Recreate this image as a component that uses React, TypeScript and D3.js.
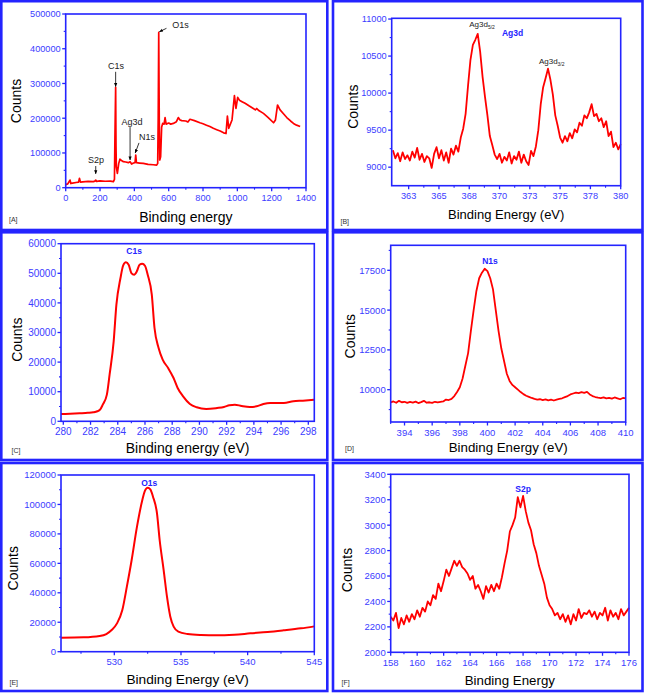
import React from 'react';
import * as d3 from 'd3';

// ---------- DATA ----------
// [A] survey spectrum: [binding energy, counts]
const surveyPoints: [number, number][] = [
  [0, 9000], [12, 11000], [25, 22000], [30, 12000], [40, 13000], [60, 15000], [75, 16000], [80, 27000],
  [86, 16000], [100, 17000], [130, 18000], [161, 17500], [170, 19000], [175, 22000], [180, 18000],
  [200, 19500], [230, 18500], [260, 19000], [278, 17500], [284, 24000], [287, 150000], [291, 289000],
  [293, 120000], [295, 60000], [301, 41000], [309, 70000], [316, 82000], [325, 78000], [336, 75000],
  [350, 74000], [365, 72000], [375, 75000], [384, 68000], [395, 71000], [404, 72000], [408, 94000],
  [412, 72000], [430, 71000], [452, 70000], [480, 67000], [510, 66000], [530, 65000], [536, 70000],
  [539, 200000], [542, 447000], [545, 200000], [548, 80000], [553, 89000], [559, 175000], [565, 185000],
  [573, 183000], [579, 202000], [585, 183000], [600, 186000], [612, 183000], [627, 185000], [645, 190000],
  [656, 202000], [666, 195000], [676, 193000], [700, 192000], [712, 189000], [724, 197000], [750, 193000],
  [782, 187000], [800, 184000], [820, 180000], [840, 176000], [860, 171000], [880, 167000], [900, 163000],
  [920, 158000], [934, 156000], [942, 206000], [950, 171000], [957, 180000], [969, 195000], [983, 265000],
  [992, 228000], [1002, 260000], [1012, 252000], [1030, 247000], [1045, 243000], [1070, 235000],
  [1093, 228000], [1105, 224000], [1113, 228000], [1125, 222000], [1152, 214000], [1180, 202000],
  [1211, 187000], [1222, 195000], [1234, 238000], [1249, 224000], [1270, 212000], [1288, 202000],
  [1310, 192000], [1327, 185000], [1345, 180000], [1366, 176000],
];
const surveyXTicks = [0, 200, 400, 600, 800, 1000, 1200, 1400];
const surveyXMinor = [100, 300, 500, 700, 900, 1100, 1300];
const surveyYTicks = [0, 100000, 200000, 300000, 400000, 500000];
const surveyYMinor = [50000, 150000, 250000, 350000, 450000];
// annotation: label, text centre [eV, counts], arrow start, arrow tip
const surveyNotes = [
  { text: 'O1s', t: [669, 468300], a: [587, 458800], b: [546, 449000] },
  { text: 'C1s', t: [293, 350300], a: [291, 333600], b: [291, 291000] },
  { text: 'Ag3d', t: [386, 190600], a: [375, 174400], b: [375, 79700] },
  { text: 'N1s', t: [474, 146800], a: [427, 129000], b: [405, 99900] },
  { text: 'S2p', t: [177, 79700], a: [175, 62400], b: [175, 40000] },
];

// [B] Ag3d region, counts on a 0.2 eV grid starting at 361.2 eV
const agStart = 361.2;
const agStep = 0.2;
const agCounts = [
  9230, 9120, 9190, 9080, 9200, 9110, 9160, 9090, 9210, 9130,
  9260, 9100, 9180, 9070, 9150, 9120, 8990, 9180, 9270, 9120,
  9230, 9090, 9200, 9060, 9250, 9170, 9290, 9210, 9400, 9520,
  9720, 10100, 10450, 10650, 10720, 10800, 10560, 10220, 9950, 9700,
  9420, 9300, 9170, 9110, 9180, 9060, 9140, 9090, 9200, 9050,
  9150, 9100, 9210, 9060, 9170, 9080, 9030, 9220, 9150, 9280,
  9500, 9850, 10080, 10200, 10330, 10180, 9980, 9700, 9560, 9400,
  9330, 9420, 9350, 9460, 9390, 9510, 9470, 9600, 9560, 9700,
  9660, 9740, 9850, 9690, 9720, 9620, 9660, 9540, 9620, 9420,
  9480, 9270, 9330, 9240, 9310,
];
const agXTicks = [362.5, 365, 367.5, 370, 372.5, 375, 377.5, 380];
const agXLabels = ['363', '365', '368', '370', '373', '375', '378', '380'];
const agXMinor = [363.75, 366.25, 368.75, 371.25, 373.75, 376.25, 378.75];
const agYTicks = [9000, 9500, 10000, 10500, 11000];
const agYMinor = [9250, 9750, 10250, 10750];

// [C] C1s region: [eV, counts]
const c1sPoints: [number, number][] = [
  [279.83, 2450], [280.5, 2550], [281.2, 2700], [281.8, 2850], [282.2, 3040], [282.5, 3400], [282.7, 3940],
  [282.9, 5630], [283.2, 9000], [283.4, 15760], [283.7, 27000], [283.9, 39400], [284.2, 48400],
  [284.4, 52680], [284.6, 53700], [284.8, 52900], [285.0, 50100], [285.2, 49530], [285.4, 50660],
  [285.6, 52900], [285.8, 53240], [286.0, 52570], [286.2, 49530], [286.5, 42780], [286.7, 31520],
  [287.0, 24770], [287.3, 20830], [287.7, 18010], [288.1, 14630], [288.4, 11260], [288.8, 8440],
  [289.3, 5850], [289.8, 4730], [290.5, 4170], [291.3, 4500], [291.8, 4840], [292.2, 5400],
  [292.6, 5630], [293.1, 5180], [293.7, 4840], [294.2, 5070], [294.7, 5850], [295.2, 6190],
  [296.2, 6190], [296.9, 6750], [297.6, 6980], [298.44, 7320],
];
const c1sXTicks = [280, 282, 284, 286, 288, 290, 292, 294, 296, 298];
const c1sXMinor = [281, 283, 285, 287, 289, 291, 293, 295, 297];
const c1sYTicks = [0, 10000, 20000, 30000, 40000, 50000, 60000];
const c1sYMinor = [5000, 15000, 25000, 35000, 45000, 55000];

// [D] N1s region, counts on a 0.2 eV grid starting at 393 eV
const n1sStart = 393;
const n1sStep = 0.2;
const n1sCounts = [
  9200, 9260, 9180, 9300, 9210, 9240, 9170, 9230, 9190, 9250,
  9160, 9220, 9300, 9180, 9210, 9170, 9240, 9200, 9230, 9260,
  9380, 9350, 9420, 9600, 9850, 10150, 10700, 11500, 12300, 13700,
  15000, 16200, 17000, 17350, 17600, 17450, 17000, 16300, 15000, 13700,
  12600, 11800, 11000, 10550, 10300, 10150, 10000, 9850, 9720, 9620,
  9550, 9480, 9420, 9380, 9400, 9350, 9390, 9330, 9370, 9320,
  9380, 9420, 9460, 9530, 9600, 9700, 9760, 9820, 9790, 9850,
  9800, 9860, 9700, 9600, 9540, 9500, 9470, 9520, 9450, 9490,
  9440, 9510, 9460, 9400, 9480, 9450,
];
const n1sXTicks = [394, 396, 398, 400, 402, 404, 406, 408, 410];
const n1sXMinor = [393, 395, 397, 399, 401, 403, 405, 407, 409];
const n1sYTicks = [10000, 12500, 15000, 17500];
const n1sYMinor = [8750, 11250, 13750, 16250, 18750];

// [E] O1s region: [eV, counts]
const o1sPoints: [number, number][] = [
  [526, 9510], [527.7, 9735], [528.9, 10640], [529.4, 12000], [529.8, 14720], [530.2, 19240],
  [530.6, 28300], [530.94, 44150], [531.3, 62260], [531.7, 84900], [532.1, 103000], [532.3, 109350],
  [532.5, 111400], [532.7, 110250], [532.9, 105280], [533.2, 93960], [533.4, 75850], [533.7, 55470],
  [533.95, 37360], [534.2, 23770], [534.45, 16980], [534.8, 13580], [535.5, 12000], [536.5, 11320],
  [537.7, 11090], [539.0, 11550], [540.2, 12450], [541.5, 13360], [542.7, 14490], [544.0, 15850],
  [545, 17200],
];
const o1sXTicks = [530, 535, 540, 545];
const o1sXMinor = [527.5, 532.5, 537.5, 542.5];
const o1sYTicks = [0, 20000, 40000, 60000, 80000, 100000, 120000];
const o1sYMinor = [10000, 30000, 50000, 70000, 90000, 110000];

// [F] S2p region, counts on a 0.2 eV grid starting at 158 eV
const s2pStart = 158;
const s2pStep = 0.2;
const s2pCounts = [
  2280, 2250, 2310, 2190, 2270, 2220, 2290, 2240, 2300, 2260,
  2330, 2280, 2350, 2320, 2400, 2370, 2450, 2420, 2540, 2480,
  2560, 2650, 2600, 2660, 2720, 2680, 2720, 2670, 2650, 2620,
  2570, 2600, 2500, 2530, 2480, 2420, 2520, 2470, 2530, 2480,
  2540, 2500, 2590, 2700, 2800, 2950, 3000, 3060, 3220, 3140,
  3230, 3110, 3020, 2960, 2850, 2780, 2680, 2610, 2540, 2430,
  2370, 2340, 2290, 2310, 2260, 2300, 2240, 2290, 2220, 2300,
  2250, 2340, 2270, 2310, 2300, 2330, 2280, 2320, 2260, 2310,
  2290, 2350, 2250, 2330, 2280, 2310, 2260, 2340, 2290, 2320,
  2350,
];
const s2pXTicks = [158, 160, 162, 164, 166, 168, 170, 172, 174, 176];
const s2pXMinor = [159, 161, 163, 165, 167, 169, 171, 173, 175];
const s2pYTicks = [2000, 2200, 2400, 2600, 2800, 3000, 3200, 3400];
const s2pYMinor = [2100, 2300, 2500, 2700, 2900, 3100, 3300];

// ---------- STYLE ----------
const BLUE = '#2424ff';
const TICK_BLUE = '#3c3cff';
const RED = '#ff0000';
const FONT = '"Liberation Sans", Arial, sans-serif';

const grid = (start: number, step: number, counts: number[]): [number, number][] =>
  counts.map((c, i) => [+(start + i * step).toFixed(3), c]);

type Cfg = {
  tag: string;
  outer: [number, number, number, number];
  plot: { l: number; r: number; t: number; b: number };
  xDomain: [number, number];
  yDomain: [number, number];
  xTicks: number[];
  xLabels?: string[];
  xMinor: number[];
  yTicks: number[];
  yMinor: number[];
  points: [number, number][];
  curve: d3.CurveFactory;
  lw: number;
  tickFs: number;
  ylab: { x: number; y: number; fs: number };
  xlab: { text: string; y: number; fs: number };
  tagPos: [number, number];
  peak?: { text: string; at: [number, number] };
};

const panels: Cfg[] = [
  {
    tag: '[A]', outer: [1.3, 1.2, 326, 228.8],
    plot: { l: 65.7, r: 306, t: 14, b: 187.7 },
    xDomain: [0, 1400], yDomain: [0, 500000],
    xTicks: surveyXTicks, xMinor: surveyXMinor, yTicks: surveyYTicks, yMinor: surveyYMinor,
    points: surveyPoints, curve: d3.curveLinear, lw: 1.7, tickFs: 9.2,
    ylab: { x: 20.5, y: 101, fs: 14 }, xlab: { text: 'Binding energy', y: 221.5, fs: 14 },
    tagPos: [9, 221.5],
  },
  {
    tag: '[B]', outer: [333, 1.2, 309.5, 228.8],
    plot: { l: 391.7, r: 620.7, t: 18.3, b: 185.7 },
    xDomain: [361.1, 380], yDomain: [8750, 11010],
    xTicks: agXTicks, xLabels: agXLabels, xMinor: agXMinor, yTicks: agYTicks, yMinor: agYMinor,
    points: grid(agStart, agStep, agCounts), curve: d3.curveLinear, lw: 1.8, tickFs: 9.2,
    ylab: { x: 357.5, y: 106.7, fs: 14 }, xlab: { text: 'Binding Energy (eV)', y: 218.5, fs: 13 },
    tagPos: [340.5, 223.5],
  },
  {
    tag: '[C]', outer: [1.3, 232.3, 326, 227.7],
    plot: { l: 61, r: 314.3, t: 243.7, b: 421.3 },
    xDomain: [279.83, 298.44], yDomain: [0, 60000],
    xTicks: c1sXTicks, xMinor: c1sXMinor, yTicks: c1sYTicks, yMinor: c1sYMinor,
    points: c1sPoints, curve: d3.curveMonotoneX, lw: 2, tickFs: 10,
    ylab: { x: 21.7, y: 339.7, fs: 14 }, xlab: { text: 'Binding energy (eV)', y: 453, fs: 14 },
    tagPos: [11.5, 453], peak: { text: 'C1s', at: [285.2, 57700] },
  },
  {
    tag: '[D]', outer: [333, 232.3, 309.5, 227.7],
    plot: { l: 390.7, r: 625.7, t: 245.3, b: 422 },
    xDomain: [393, 410], yDomain: [7970, 19070],
    xTicks: n1sXTicks, xMinor: n1sXMinor, yTicks: n1sYTicks, yMinor: n1sYMinor,
    points: grid(n1sStart, n1sStep, n1sCounts), curve: d3.curveLinear, lw: 1.8, tickFs: 9.5,
    ylab: { x: 354.7, y: 336.3, fs: 14 }, xlab: { text: 'Binding Energy (eV)', y: 451.5, fs: 13.3 },
    tagPos: [345, 451], peak: { text: 'N1s', at: [400.18, 18065] },
  },
  {
    tag: '[E]', outer: [1.3, 463, 326, 228],
    plot: { l: 61, r: 314.3, t: 475, b: 651.7 },
    xDomain: [526, 545], yDomain: [0, 120000],
    xTicks: o1sXTicks, xMinor: o1sXMinor, yTicks: o1sYTicks, yMinor: o1sYMinor,
    points: o1sPoints, curve: d3.curveMonotoneX, lw: 2, tickFs: 9.5,
    ylab: { x: 18.3, y: 568.3, fs: 14 }, xlab: { text: 'Binding Energy (eV)', y: 684, fs: 13.7 },
    tagPos: [9.5, 684.5], peak: { text: 'O1s', at: [532.62, 114770] },
  },
  {
    tag: '[F]', outer: [333, 463, 309.5, 228],
    plot: { l: 390.7, r: 629, t: 474.3, b: 652.3 },
    xDomain: [158, 176], yDomain: [2000, 3400],
    xTicks: s2pXTicks, xMinor: s2pXMinor, yTicks: s2pYTicks, yMinor: s2pYMinor,
    points: grid(s2pStart, s2pStep, s2pCounts), curve: d3.curveLinear, lw: 1.8, tickFs: 9.5,
    ylab: { x: 352.3, y: 570, fs: 14 }, xlab: { text: 'Binding Energy', y: 685, fs: 13.3 },
    tagPos: [341.5, 684.5], peak: { text: 'S2p', at: [168.0, 3282] },
  },
];

function Panel({ cfg, children }: { cfg: Cfg; children?: (x: d3.ScaleLinear<number, number>, y: d3.ScaleLinear<number, number>) => React.ReactNode }) {
  const { plot } = cfg;
  const x = d3.scaleLinear().domain(cfg.xDomain).range([plot.l, plot.r]);
  const y = d3.scaleLinear().domain(cfg.yDomain).range([plot.b, plot.t]);
  const line = d3.line<[number, number]>().x(d => x(d[0])).y(d => y(d[1])).curve(cfg.curve);
  const [ox, oy, ow, oh] = cfg.outer;
  return (
    <g fontFamily={FONT}>
      <rect x={ox} y={oy} width={ow} height={oh} fill="#fff" stroke={BLUE} strokeWidth={2.6} />
      <path d={line(cfg.points) || ''} fill="none" stroke={RED} strokeWidth={cfg.lw} strokeLinejoin="round" />
      <rect x={plot.l} y={plot.t} width={plot.r - plot.l} height={plot.b - plot.t} fill="none" stroke={BLUE} strokeWidth={1.6} />
      {cfg.yTicks.map((v, i) => (
        <g key={'yt' + i}>
          <line x1={plot.l - 3.5} x2={plot.l} y1={y(v)} y2={y(v)} stroke={BLUE} strokeWidth={1.3} />
          <text x={plot.l - 5} y={y(v)} dy="0.36em" textAnchor="end" fontSize={cfg.tickFs} fill={TICK_BLUE}>{d3.format('d')(v)}</text>
        </g>
      ))}
      {cfg.yMinor.map((v, i) => (
        <line key={'ym' + i} x1={plot.l - 2} x2={plot.l} y1={y(v)} y2={y(v)} stroke={BLUE} strokeWidth={1.1} />
      ))}
      {cfg.xTicks.map((v, i) => (
        <g key={'xt' + i}>
          <line x1={x(v)} x2={x(v)} y1={plot.b} y2={plot.b + 3.5} stroke={BLUE} strokeWidth={1.3} />
          <text x={x(v)} y={plot.b + 13.5} textAnchor="middle" fontSize={cfg.tickFs} fill={TICK_BLUE}>
            {cfg.xLabels ? cfg.xLabels[i] : String(v)}
          </text>
        </g>
      ))}
      {cfg.xMinor.map((v, i) => (
        <line key={'xm' + i} x1={x(v)} x2={x(v)} y1={plot.b} y2={plot.b + 2} stroke={BLUE} strokeWidth={1.1} />
      ))}
      <text transform={`translate(${cfg.ylab.x},${cfg.ylab.y}) rotate(-90)`} textAnchor="middle" fontSize={cfg.ylab.fs} fill="#000">Counts</text>
      <text x={(plot.l + plot.r) / 2} y={cfg.xlab.y} textAnchor="middle" fontSize={cfg.xlab.fs} fill="#000">{cfg.xlab.text}</text>
      <text x={cfg.tagPos[0]} y={cfg.tagPos[1]} fontSize={7} fill="#333">{cfg.tag}</text>
      {cfg.peak && (
        <text x={x(cfg.peak.at[0])} y={y(cfg.peak.at[1])} dy="0.36em" textAnchor="middle" fontSize={8.5} fontWeight="bold" fill={BLUE}>{cfg.peak.text}</text>
      )}
      {children && children(x, y)}
    </g>
  );
}

export default function App() {
  return (
    <svg width={647} height={694} style={{ position: 'absolute', left: 0, top: 0, background: '#fff' }}>
      <defs>
        <marker id="arr" viewBox="0 0 10 10" refX="9" refY="5" markerWidth="5" markerHeight="5" orient="auto-start-reverse">
          <path d="M0,1 L10,5 L0,9 z" fill="#000" />
        </marker>
      </defs>
      <Panel cfg={panels[0]}>
        {(x, y) => surveyNotes.map((n, i) => (
          <g key={i}>
            <line x1={x(n.a[0])} y1={y(n.a[1])} x2={x(n.b[0])} y2={y(n.b[1])} stroke="#000" strokeWidth={0.8} markerEnd="url(#arr)" />
            <text x={x(n.t[0])} y={y(n.t[1])} dy="0.36em" textAnchor="middle" fontSize={9} fill="#222">{n.text}</text>
          </g>
        ))}
      </Panel>
      <Panel cfg={panels[1]}>
        {(x, y) => (
          <g>
            <text x={x(367.5)} y={y(10887)} fontSize={8} fill="#222">Ag3d<tspan fontSize={5} dy={2}>5/2</tspan></text>
            <text x={x(373.25)} y={y(10392)} fontSize={8} fill="#222">Ag3d<tspan fontSize={5} dy={2}>3/2</tspan></text>
            <text x={x(370.2)} y={y(10770)} fontSize={8.5} fontWeight="bold" fill={BLUE}>Ag3d</text>
          </g>
        )}
      </Panel>
      <Panel cfg={panels[2]} />
      <Panel cfg={panels[3]} />
      <Panel cfg={panels[4]} />
      <Panel cfg={panels[5]} />
    </svg>
  );
}
